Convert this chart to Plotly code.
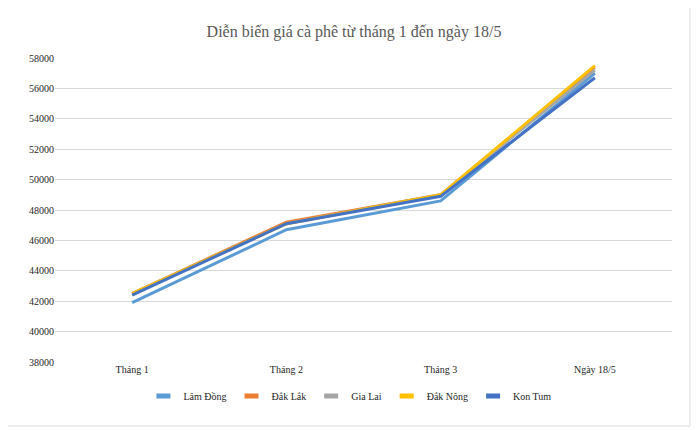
import plotly.graph_objects as go

categories = ["Tháng 1", "Tháng 2", "Tháng 3", "Ngày 18/5"]
series_names = ["Lâm Đồng", "Đắk Lắk", "Gia Lai", "Đắk Nông", "Kon Tum"]
lam_dong = [41900, 46700, 48600, 57000]
dak_lak = [42500, 47200, 49000, 57400]
gia_lai = [42500, 47100, 49000, 57200]
dak_nong = [42500, 47100, 49000, 57500]
kon_tum = [42400, 47100, 48900, 56700]
series_values = [lam_dong, dak_lak, gia_lai, dak_nong, kon_tum]
colors = ["#5B9BD5", "#ED7D31", "#A5A5A5", "#FFC000", "#4472C4"]

fig = go.Figure()
for name, vals, col in zip(series_names, series_values, colors):
    fig.add_trace(
        go.Scatter(
            x=categories, y=vals, mode="lines", name=name,
            line=dict(color=col, width=3), showlegend=False,
        )
    )

# short thick legend keys, Excel style
for name, col in zip(series_names, colors):
    fig.add_trace(
        go.Scatter(
            x=[None], y=[None], mode="markers", name=name,
            marker=dict(symbol="line-ew", size=10, line=dict(width=5, color=col)),
        )
    )

fig.update_xaxes(
    type="category",
    range=[-0.5, 3.5],
    showgrid=False,
    zeroline=False,
    showline=False,
    ticks="",
    tickfont=dict(size=10, color="#262626"),
)
fig.update_yaxes(
    range=[38000, 58000],
    dtick=2000,
    showgrid=True,
    gridcolor="#D9D9D9",
    gridwidth=1,
    zeroline=False,
    showline=False,
    ticks="",
    tickformat="d",
    tickfont=dict(size=10, color="#262626"),
)

# light grey frame around the whole chart area
fig.add_shape(
    type="rect", xref="paper", yref="paper",
    x0=-0.0843, x1=1.029, y0=-0.2105, y1=1.181,
    line=dict(color="#D9D9D9", width=1), layer="below",
)

fig.update_layout(
    width=692,
    height=422,
    margin=dict(l=47, r=28, t=50, b=68),
    paper_bgcolor="white",
    plot_bgcolor="white",
    font=dict(family="Liberation Serif", size=10, color="#262626"),
    title=dict(
        text="Diễn biến giá cà phê từ tháng 1 đến ngày 18/5",
        x=0.5, xanchor="center", y=1 - 23 / 422, yanchor="middle",
        font=dict(family="Liberation Serif", size=16, color="#595959"),
    ),
    legend=dict(
        orientation="h",
        x=0.478, xanchor="center",
        y=-0.112, yanchor="middle",
        font=dict(size=10, color="#262626"),
        itemwidth=30,
    ),
)

fig.write_html("out.html")
